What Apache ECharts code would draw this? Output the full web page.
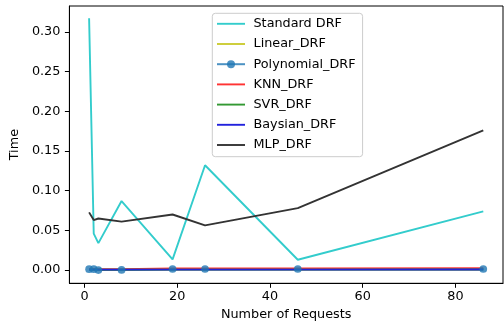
<!DOCTYPE html>
<html>
<head>
<meta charset="utf-8">
<script src="https://cdn.jsdelivr.net/npm/echarts@6/dist/echarts.min.js"></script>
<style>html,body{margin:0;padding:0;background:#fff;}#c{width:504px;height:327px;}</style>
</head>
<body>
<div id="c"></div>
<script>
const requests = [1, 2, 3, 8, 19, 26, 46, 86];
const standardDRF = [0.317, 0.046, 0.034, 0.087, 0.0135, 0.132, 0.013, 0.074];
const linearDRF = [0.0005, 0.0005, 0.0005, 0.0005, 0.0006, 0.0006, 0.0006, 0.0007];
const polynomialDRF = [0.0012, 0.0012, 0.0001, 0.0003, 0.0014, 0.0014, 0.0014, 0.0014];
const knnDRF = [0.001, 0.001, 0.001, 0.001, 0.0022, 0.0022, 0.0022, 0.0024];
const svrDRF = [0.0005, 0.0005, 0.0005, 0.0005, 0.0006, 0.0006, 0.0006, 0.0007];
const baysianDRF = [0.0006, 0.0006, 0.0006, 0.0006, 0.0006, 0.0006, 0.0006, 0.0008];
const mlpDRF = [0.0727, 0.063, 0.065, 0.061, 0.070, 0.0563, 0.078, 0.176];
const xTicks = [0, 20, 40, 60, 80];
const yTicks = [0, 0.05, 0.10, 0.15, 0.20, 0.25, 0.30];

const FONT = 'DejaVu Sans';
const FS = 12.8;
const LW = 1.9;
const LINE_ICON = 'path://M0,0h28v1.9H0z';

function pairs(ys) { return requests.map((x, i) => [x, ys[i]]); }

function lineSeries(name, ys, color, extra) {
  return Object.assign({
    name: name,
    type: 'line',
    data: pairs(ys),
    symbol: 'none',
    showSymbol: false,
    lineStyle: { color: color, width: LW },
    itemStyle: { color: color },
    animation: false
  }, extra || {});
}

const chart = echarts.init(document.getElementById('c'), null, { renderer: 'canvas' });
chart.setOption({
  animation: false,
  backgroundColor: '#fff',
  textStyle: { fontFamily: FONT },
  grid: { left: 68, right: 1, top: 6, bottom: 43.7, show: true, borderColor: '#000', borderWidth: 1, containLabel: false },
  xAxis: {
    type: 'value',
    min: -3.25, max: 90.25,
    name: 'Number of Requests',
    nameLocation: 'middle',
    nameGap: 22,
    nameTextStyle: { fontFamily: FONT, fontSize: FS, color: '#000' },
    axisLine: { show: true, onZero: false, lineStyle: { color: '#000', width: 1 } },
    axisTick: { show: true, length: 4.5, lineStyle: { color: '#000', width: 1 }, customValues: xTicks },
    axisLabel: { fontFamily: FONT, fontSize: FS, color: '#000', margin: 7, customValues: xTicks, formatter: v => String(v) },
    splitLine: { show: false }
  },
  yAxis: {
    type: 'value',
    min: -0.0166, max: 0.3325,
    name: 'Time',
    nameLocation: 'middle',
    nameGap: 45,
    nameTextStyle: { fontFamily: FONT, fontSize: FS, color: '#000' },
    axisLine: { show: true, onZero: false, lineStyle: { color: '#000', width: 1 } },
    axisTick: { show: true, length: 4.5, lineStyle: { color: '#000', width: 1 }, customValues: yTicks },
    axisLabel: { fontFamily: FONT, fontSize: FS, color: '#000', margin: 9, customValues: yTicks, formatter: v => v.toFixed(2) },
    splitLine: { show: false }
  },
  legend: {
    orient: 'vertical',
    left: 212.3, top: 13.3,
    padding: [4, 7, 5.2, 3.7],
    itemWidth: 28, itemHeight: 10, itemGap: 7.2,
    backgroundColor: 'rgba(255,255,255,0.8)',
    borderColor: '#cccccc', borderWidth: 1, borderRadius: 3,
    textStyle: { fontFamily: FONT, fontSize: FS, color: '#000', padding: [0, 0, 0, 3.5] },
    data: [
      { name: 'Standard DRF', icon: LINE_ICON },
      { name: 'Linear_DRF', icon: LINE_ICON },
      { name: 'Polynomial_DRF' },
      { name: 'KNN_DRF', icon: LINE_ICON },
      { name: 'SVR_DRF', icon: LINE_ICON },
      { name: 'Baysian_DRF', icon: LINE_ICON },
      { name: 'MLP_DRF', icon: LINE_ICON }
    ]
  },
  series: [
    lineSeries('Standard DRF', standardDRF, '#33cccc'),
    lineSeries('Linear_DRF', linearDRF, '#cccc33'),
    lineSeries('Polynomial_DRF', polynomialDRF, '#1f77b4', {
      symbol: 'circle', showSymbol: true, symbolSize: 7.7,
      lineStyle: { color: '#1f77b4', width: LW, opacity: 0.8 },
      itemStyle: { color: '#1f77b4', opacity: 0.8 }
    }),
    lineSeries('KNN_DRF', knnDRF, '#ff3333'),
    lineSeries('SVR_DRF', svrDRF, '#339933'),
    lineSeries('Baysian_DRF', baysianDRF, '#2222dd'),
    lineSeries('MLP_DRF', mlpDRF, '#333333')
  ]
});
</script>
</body>
</html>
